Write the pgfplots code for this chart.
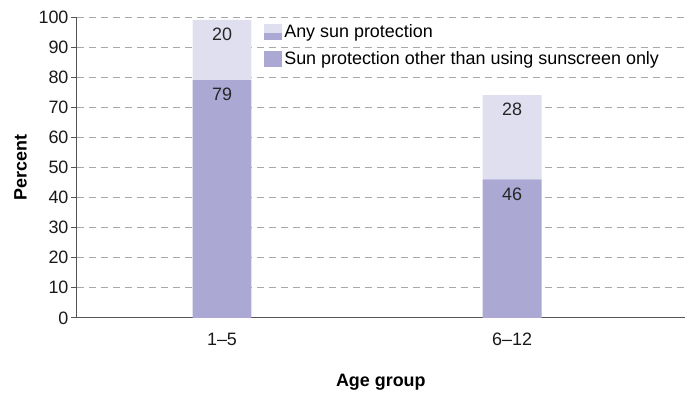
\documentclass[border=0pt]{standalone}
\usepackage{pgfplots}
\pgfplotsset{compat=1.18}
\usepackage{fontspec}
\setmainfont{Liberation Sans}
\definecolor{darkbar}{HTML}{ABA8D4}
\definecolor{lightbar}{HTML}{E0DFF0}
\definecolor{axgray}{HTML}{555555}
\definecolor{gridgray}{HTML}{A8A8A8}
\newcommand{\fs}{\fontsize{18}{21}\selectfont}
\begin{document}
\begin{tikzpicture}
\begin{axis}[
  name=ax,
  scale only axis, width=608bp, height=301bp,
  ybar stacked, bar width=59bp,
  xmin=0, xmax=4.19, ymin=0, ymax=100,
  ytick={0,10,...,100},
  xtick={1,3}, xticklabels={1--5,6--12},
  major x tick style={draw=none},
  extra x ticks={0,2,4.19}, extra x tick labels={},
  extra x tick style={major tick length=5bp, tick style={draw=axgray, line width=0.8pt}},
  axis x line*=bottom, axis y line*=left,
  axis line style={draw=axgray, line width=1pt, -},
  tick align=outside, major tick length=6bp,
  ytick style={draw=axgray, line width=0.8pt},
  ymajorgrids, grid style={gridgray, dash pattern=on 7bp off 5bp, line width=0.8pt},
  tick label style={font=\fs, text=black!90},
  yticklabel style={xshift=1bp},
  /pgf/number format/assume math mode=true,
  xticklabel style={yshift=-6bp},
  xlabel={\bfseries Age group}, ylabel={\bfseries Percent},
  label style={font=\fs},
  xlabel style={yshift=-10bp},
  ylabel style={yshift=5bp},
  nodes near coords, point meta=explicit,
  visualization depends on={rawy \as \myy},
  every node near coord/.append style={anchor=center, yshift=\myy*1.505bp-14.5bp, font=\fs, text=black!85},
  legend style={at={(rel axis cs:0.308,0.983)}, anchor=north west, draw=none, fill=none,
    font=\fs, row sep=9bp, inner sep=0pt,
    /tikz/every even column/.append style={column sep=7bp}},
  legend cell align=left,
  reverse legend,
]
\addplot[fill=darkbar, draw=none,
  legend image code/.code={\fill[darkbar] (0bp,-8bp) rectangle (18bp,8bp);}]
  coordinates {(1,79) [79] (3,46) [46]};
\addlegendentry{Sun protection other than using sunscreen only}
\addplot[fill=lightbar, draw=none,
  legend image code/.code={\fill[lightbar] (0bp,-1bp) rectangle (18bp,8bp); \fill[darkbar] (0bp,-8bp) rectangle (18bp,-1bp);}]
  coordinates {(1,20) [20] (3,28) [28]};
\addlegendentry{Any sun protection}
\end{axis}
\path ([xshift=-77bp,yshift=-72bp]ax.south west) rectangle ([xshift=3bp,yshift=17bp]ax.north east);
\end{tikzpicture}
\end{document}
